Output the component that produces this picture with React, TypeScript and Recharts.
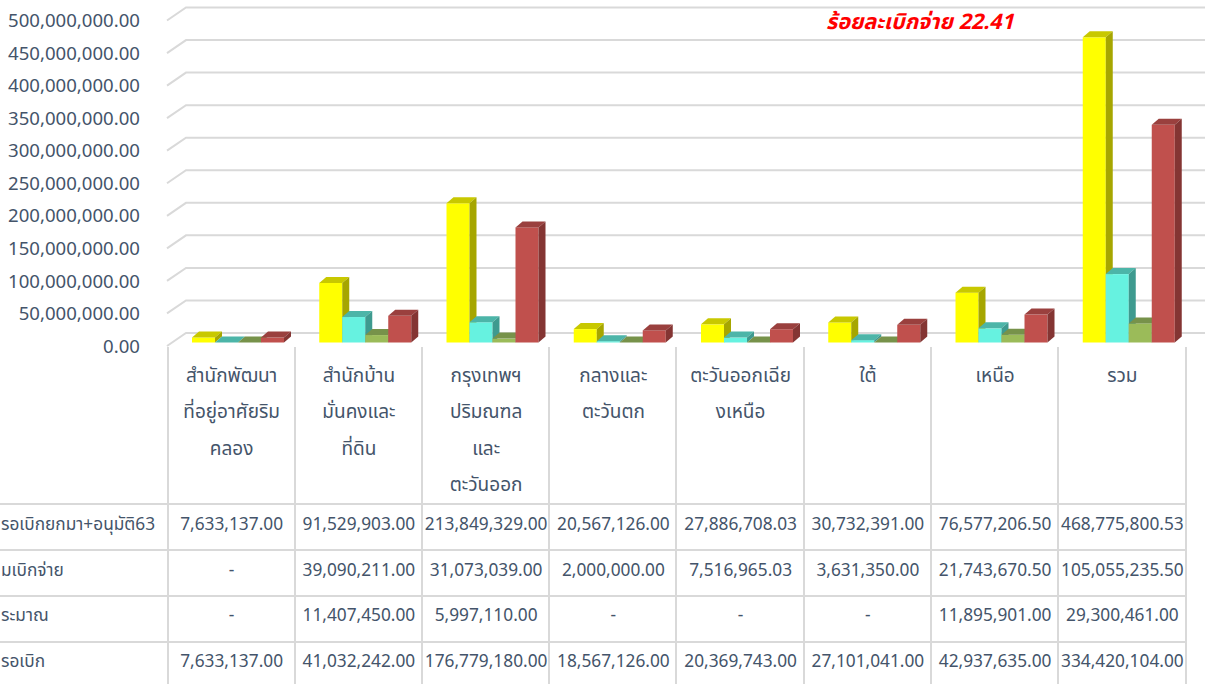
import { BarChart, Bar, XAxis, YAxis, CartesianGrid } from 'recharts';

const categories = [
  'สำนักพัฒนา\nที่อยู่อาศัยริม\nคลอง',
  'สำนักบ้าน\nมั่นคงและ\nที่ดิน',
  'กรุงเทพฯ\nปริมณฑล\nและ\nตะวันออก',
  'กลางและ\nตะวันตก',
  'ตะวันออกเฉีย\nงเหนือ',
  'ใต้',
  'เหนือ',
  'รวม',
];
const pending63 = [7633137.0, 91529903.0, 213849329.0, 20567126.0, 27886708.03, 30732391.0, 76577206.5, 468775800.53];
const disbursed = [0, 39090211.0, 31073039.0, 2000000.0, 7516965.03, 3631350.0, 21743670.5, 105055235.5];
const budget = [0, 11407450.0, 5997110.0, 0, 0, 0, 11895901.0, 29300461.0];
const remaining = [7633137.0, 41032242.0, 176779180.0, 18567126.0, 20369743.0, 27101041.0, 42937635.0, 334420104.0];
const rowLabels = ['รอเบิกยกมา+อนุมัติ63', 'มเบิกจ่าย', 'ระมาณ', 'รอเบิก'];
const yTicks = [0, 50000000, 100000000, 150000000, 200000000, 250000000, 300000000, 350000000, 400000000, 450000000, 500000000];
const title = 'ร้อยละเบิกจ่าย 22.41';

const data = categories.map((name, i) => ({
  name,
  pending63: pending63[i],
  disbursed: disbursed[i],
  budget: budget[i],
  remaining: remaining[i],
}));

const FONT = '"Noto Sans Thai", "Noto Sans", sans-serif';
const TEXT = '#44546A';
const GRID = '#D9D9D9';

const fmt = (v: number) =>
  v === 0 ? '-' : v.toLocaleString('en-US', { minimumFractionDigits: 2, maximumFractionDigits: 2 });

// 3d box: front face + top + right side
const box3d = (front: string, top: string, side: string) => (props: any) => {
  const { x, y, width, height } = props;
  if (x == null || y == null) return <g />;
  const fx = x + 6;
  const fy = y - 3.5;
  const h = Math.max(height || 0, 0);
  const dx = 7;
  const dy = 6;
  return (
    <g>
      <rect x={fx} y={fy} width={width} height={h} fill={front} />
      <path d={`M${fx},${fy} L${fx + dx},${fy - dy} L${fx + width + dx},${fy - dy} L${fx + width},${fy} Z`} fill={top} />
      <path d={`M${fx + width},${fy} L${fx + width + dx},${fy - dy} L${fx + width + dx},${fy + h - dy} L${fx + width},${fy + h} Z`} fill={side} />
    </g>
  );
};

const gridLine = (props: any) => {
  const { x1, y1, x2 } = props;
  return (
    <g key={props.key ?? `g-${y1}`}>
      <path d={`M${x1 - 1},${y1} L${x1 + 18},${y1 - 13} L${x2 + 19},${y1 - 13}`} fill="none" stroke={GRID} strokeWidth={2} />
    </g>
  );
};

const CategoryTick = (props: any) => {
  const { x, y, payload } = props;
  const i = categories.indexOf(payload.value);
  const lines = String(payload.value).split('\n');
  const rows = [pending63, disbursed, budget, remaining];
  return (
    <g>
      {lines.map((ln, k) => (
        <text key={`l${k}`} x={x} y={y + 30 + k * 36.5} textAnchor="middle" dominantBaseline="central" fill={TEXT} fontSize={19} fontFamily={FONT}>
          {ln}
        </text>
      ))}
      {rows.map((r, k) => (
        <text key={`v${k}`} x={x} y={y + 179 + k * 45.5} textAnchor="middle" dominantBaseline="central" fill={TEXT} fontSize={17.3} fontFamily={FONT}>
          {fmt(r[i])}
        </text>
      ))}
    </g>
  );
};

const colX = [168, 295, 422, 549, 676, 804, 931, 1058, 1186];
const rowY = [504, 550, 596, 642];

export default function App() {
  return (
    <div style={{ position: 'absolute', left: 0, top: 0, width: 1216, height: 684, overflow: 'hidden', background: '#fff', fontFamily: FONT }}>
      <BarChart width={1216} height={684} data={data} margin={{ top: 20.5, right: 30, left: 8, bottom: 0 }} barGap={0} barSize={23}>
        <CartesianGrid vertical={false} horizontal={gridLine} />
        <YAxis
          type="number"
          domain={[0, 500000000]}
          ticks={yTicks}
          interval={0}
          width={160}
          axisLine={false}
          tickLine={false}
          tickSize={0}
          tickMargin={28}
          tickFormatter={(v: number) => v.toLocaleString('en-US', { minimumFractionDigits: 2 })}
          tick={{ fill: TEXT, fontSize: 18.6, fontFamily: FONT }}
        />
        <XAxis dataKey="name" height={338} interval={0} axisLine={false} tickLine={false} tickSize={0} tickMargin={0} tick={<CategoryTick />} />
        <Bar dataKey="pending63" isAnimationActive={false} shape={box3d('#FFFF00', '#C8C800', '#A6A600')} />
        <Bar dataKey="disbursed" isAnimationActive={false} shape={box3d('#66F2E0', '#4CB5A8', '#3E9A8F')} />
        <Bar dataKey="budget" isAnimationActive={false} shape={box3d('#9BBB59', '#77924A', '#6B843C')} />
        <Bar dataKey="remaining" isAnimationActive={false} shape={box3d('#C0504D', '#9A403E', '#843533')} />
      </BarChart>

      {/* data table grid */}
      <svg width={1216} height={684} style={{ position: 'absolute', left: 0, top: 0, pointerEvents: 'none' }}>
        {colX.map((cx) => (
          <line key={`c${cx}`} x1={cx} y1={347} x2={cx} y2={684} stroke={GRID} strokeWidth={2} />
        ))}
        {rowY.map((ry) => (
          <line key={`r${ry}`} x1={0} y1={ry} x2={1186} y2={ry} stroke={GRID} strokeWidth={2} />
        ))}
        {rowLabels.map((t, k) => (
          <text key={t} x={1} y={525 + k * 45.5} dominantBaseline="central" fill={TEXT} fontSize={17.3} fontFamily={FONT}>
            {t}
          </text>
        ))}
      </svg>

      <div style={{ position: 'absolute', left: 826, top: 6, color: '#FF0000', fontSize: 21.5, fontStyle: 'italic', fontWeight: 'bold', whiteSpace: 'nowrap' }}>
        {title}
      </div>
    </div>
  );
}
